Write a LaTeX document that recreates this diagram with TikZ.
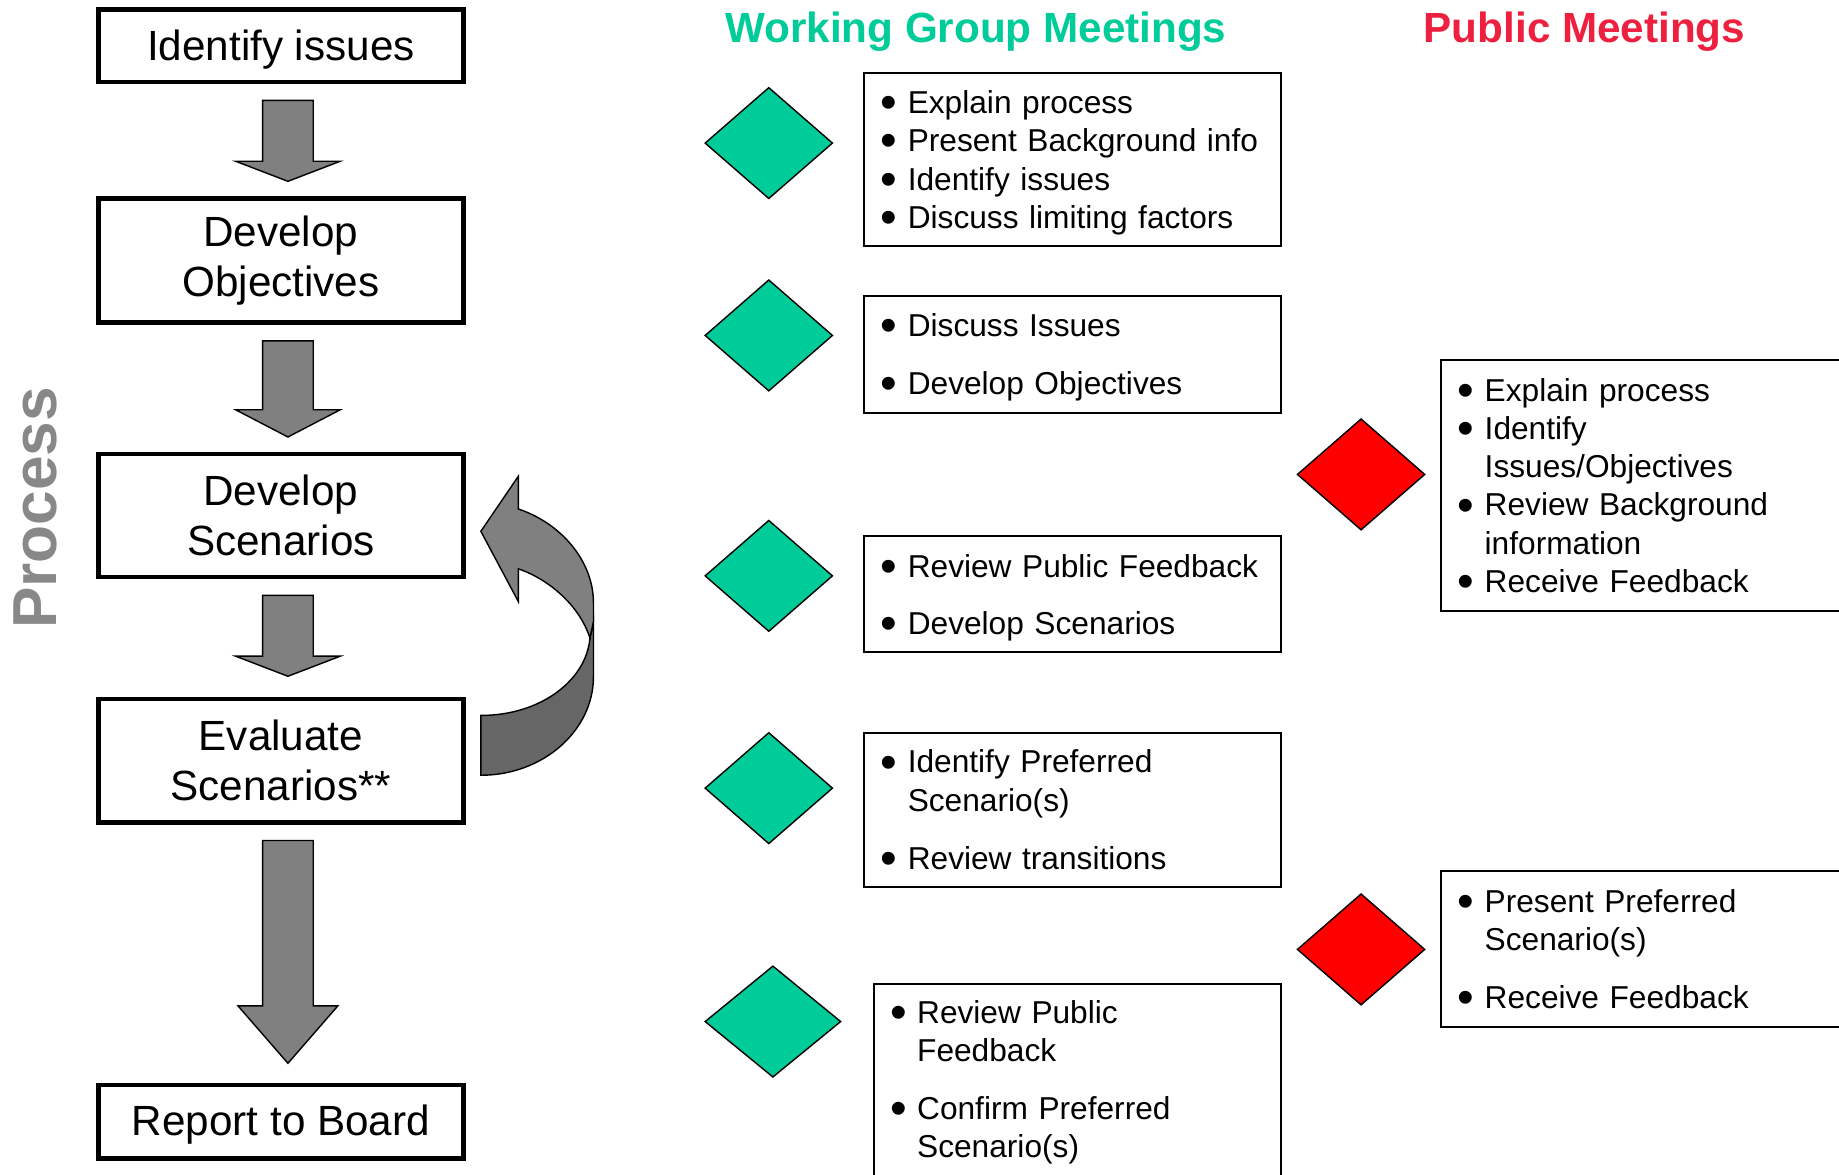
\documentclass[tikz,border=0pt]{standalone}
\usepackage{fontspec}
\setmainfont{Liberation Sans}
\usetikzlibrary{shapes.geometric,shapes.arrows,calc}
\definecolor{wggreen}{HTML}{00CC99}
\definecolor{pubred}{HTML}{FF0000}
\definecolor{titlered}{HTML}{EE2040}
\definecolor{procgray}{HTML}{888888}
\definecolor{arrowgray}{HTML}{808080}
\definecolor{backgray}{HTML}{666666}
\newcommand{\bitem}{\makebox[23pt][l]{\smash{\raisebox{-4.3pt}{\scalebox{1.5}{\textbullet}}}}}
\newcommand{\bcont}{\hspace*{23pt}}

\begin{document}
\begin{tikzpicture}[x=1pt,y=-1pt,
    stepbox/.style={draw,line width=4pt,minimum width=311pt,align=center,
      font=\fontsize{36}{43}\selectfont},
    downarrow/.style={single arrow,draw,fill=arrowgray,line width=1.2pt,
      rotate=-90,anchor=tail,inner xsep=0pt,inner ysep=21pt,
      minimum width=88pt,single arrow head extend=23pt},
    wgmark/.style={diamond,draw,fill=wggreen,line width=1.2pt,inner sep=0pt,
      minimum width=109pt,minimum height=95pt},
    pubmark/.style={diamond,draw,fill=pubred,line width=1.2pt,inner sep=0pt,
      minimum width=109pt,minimum height=95pt},
    notebox/.style={draw,line width=1.8pt,align=left,inner xsep=14pt,
      inner ysep=2pt,text width=327pt,font=\fontsize{27}{32.6}\selectfont},
    shiftdown/.style={execute at begin node={\rule{0pt}{#1}}},
    heading/.style={font=\fontsize{36}{43}\selectfont\bfseries}]

      \useasboundingbox (0,0) rectangle (1568,1001);
      \clip (0,0) rectangle (1568,1001);

      % headings
      \node[heading,text=wggreen] (wgtitle) at (832,27) {Working Group Meetings};
      \node[heading,text=titlered] (pubtitle) at (1351,27) {Public Meetings};
      \node[rotate=90,text=procgray,font=\fontsize{53}{60}\selectfont\bfseries]
        (process) at (30,433) {Process};

      % process column
      \node[stepbox,shiftdown=32pt,minimum height=62pt] (issues) at (239.5,39)
        {Identify issues};
      \node[stepbox,shiftdown=31pt,minimum height=106pt] (objectives)
        at (239.5,222) {Develop\\Objectives};
      \node[stepbox,minimum height=105pt] (develop) at (239.5,439.5)
        {Develop\\Scenarios};
      \node[stepbox,minimum height=105pt] (evaluate) at (239.5,648.5)
        {Evaluate\\Scenarios**};
      \node[stepbox,shiftdown=30pt,minimum height=63pt] (report)
        at (239.5,956.5) {Report to Board};

      \node[downarrow,minimum height=69pt,single arrow tip angle=138]
        (arr1) at ($(issues.south)+(6,13)$) {};
      \node[downarrow,minimum height=82pt,single arrow tip angle=125]
        (arr2) at ($(objectives.south)+(6,13)$) {};
      \node[downarrow,minimum height=69pt,single arrow tip angle=138]
        (arr3) at ($(develop.south)+(6,13)$) {};
      \node[downarrow,minimum height=190pt,minimum width=84pt,
        single arrow head extend=21pt,single arrow tip angle=82]
        (arr4) at ($(evaluate.south)+(6,13)$) {};

      % loop back arrow
      \draw[line width=1.2pt,fill=backgray] (410,610)
        .. controls (461,610) and (500,580) .. (503,544) -- (506,530)
        -- (506,577) .. controls (506,623) and (463,661) .. (410,661) -- cycle;
      \draw[line width=1.2pt,fill=arrowgray,line join=miter] (442,406)
        -- (410,453) -- (442,513) -- (442,485)
        .. controls (468,494) and (494,516) .. (503,544) -- (506,530)
        -- (506,514) .. controls (506,478) and (478,446) .. (442,434) -- cycle;

      % working group meetings
      \node[wgmark] (wgm1) at (655.5,122) {};
      \node[wgmark] (wgm2) at (655.5,286) {};
      \node[wgmark] (wgm3) at (655.5,491) {};
      \node[wgmark] (wgm4) at (655.5,672) {};
      \node[wgmark,minimum width=116pt] (wgm5) at (659,871) {};

      \node[notebox,shiftdown=25.3pt,minimum height=148pt] (wgb1)
        at (914.5,136)
        {\bitem Explain process\\ \bitem Present Background info\\
         \bitem Identify issues\\ \bitem Discuss limiting factors};
      \node[notebox,shiftdown=25.3pt,minimum height=100pt] (wgb2)
        at (914.5,302)
        {\bitem Discuss Issues\\[17pt] \bitem Develop Objectives};
      \node[notebox,shiftdown=25.3pt,minimum height=99pt] (wgb3)
        at (914.5,506.5)
        {\bitem Review Public Feedback\\[16pt] \bitem Develop Scenarios};
      \node[notebox,minimum height=131pt] (wgb4) at (914.5,690.5)
        {\bitem Identify Preferred\\ \bcont Scenario(s)\\[17pt]
         \bitem Review transitions};
      \node[notebox,text width=319pt,inner ysep=14pt,anchor=north] (wgb5)
        at (918.5,838)
        {\bitem Review Public\\ \bcont Feedback\\[17pt]
         \bitem Confirm Preferred\\ \bcont Scenario(s)};

      % public meetings
      \node[pubmark] (pm1) at (1160.5,404.5) {};
      \node[pubmark] (pm2) at (1160.5,809.5) {};

      \node[notebox,text width=372pt,minimum height=214pt,anchor=west] (pb1)
        at (1228,414)
        {\bitem Explain process\\ \bitem Identify\\ \bcont Issues/Objectives\\
         \bitem Review Background\\ \bcont information\\ \bitem Receive Feedback};
      \node[notebox,text width=372pt,minimum height=133pt,anchor=west] (pb2)
        at (1228,809.5)
        {\bitem Present Preferred\\ \bcont Scenario(s)\\[17pt]
         \bitem Receive Feedback};
    \end{tikzpicture}
\end{document}
